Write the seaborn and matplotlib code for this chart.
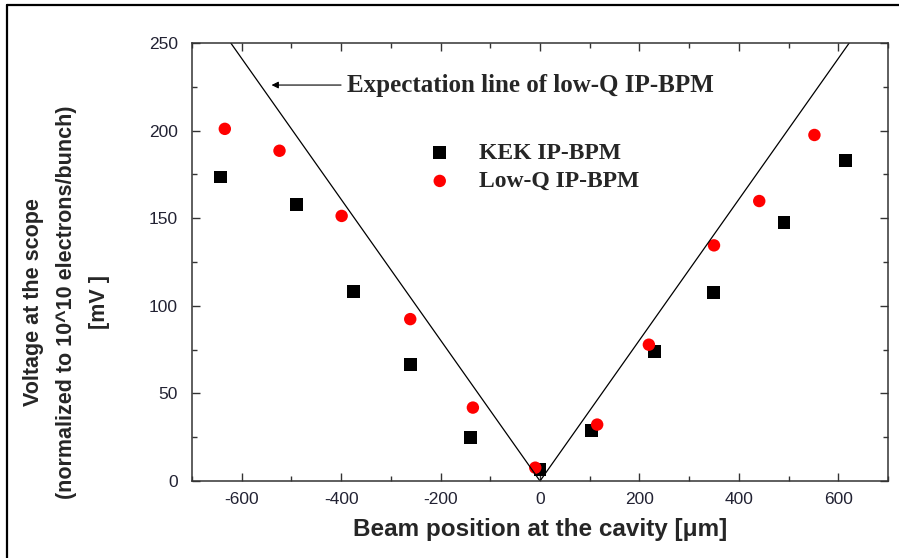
import pandas as pd
import matplotlib.pyplot as plt
import matplotlib.lines as mlines
import seaborn as sns
from matplotlib.ticker import MultipleLocator

# Dữ liệu
kek_x = [-643, -489, -375, -261, -139, 0, 103, 230, 349, 491, 615]
kek_y = [173.5, 157.6, 108, 66.3, 24.6, 6.6, 29, 73.9, 107.6, 147.7, 182.8]
lowq_x = [-634, -524, -399, -261, -135, -9.5, 115, 219, 350, 441, 552]
lowq_y = [201, 188.5, 151.3, 92.4, 41.9, 7.6, 32.2, 77.8, 134.5, 159.8, 197.5]
# đường kỳ vọng (hình chữ V)
expect_x = [-622, 0, 622]
expect_y = [250, 0, 250]

kek = pd.DataFrame({'pos': kek_x, 'volt': kek_y})
lowq = pd.DataFrame({'pos': lowq_x, 'volt': lowq_y})
expect = pd.DataFrame({'pos': expect_x, 'volt': expect_y})

sns.set_style('ticks')
plt.rcParams['font.family'] = ['Liberation Sans', 'DejaVu Sans']
plt.rcParams['axes.unicode_minus'] = False

fig = plt.figure(figsize=(8.99, 5.58), dpi=100)
ax = fig.add_axes([192 / 899, 1 - 481 / 558, 696 / 899, 438 / 558])

sns.lineplot(data=expect, x='pos', y='volt', color='black', lw=0.9, sort=False, ax=ax)
sns.scatterplot(data=kek, x='pos', y='volt', marker='s', color='black', s=85,
                edgecolor='none', label='KEK IP-BPM', ax=ax)
sns.scatterplot(data=lowq, x='pos', y='volt', marker='o', color='red', s=80,
                edgecolor='none', label='Low-Q IP-BPM', ax=ax)

ax.set_xlim(-700, 700)
ax.set_ylim(0, 250)
ax.xaxis.set_major_locator(MultipleLocator(200))
ax.xaxis.set_minor_locator(MultipleLocator(100))
ax.yaxis.set_major_locator(MultipleLocator(50))
ax.yaxis.set_minor_locator(MultipleLocator(25))
ax.tick_params(which='both', direction='in', top=True, right=True, width=1, color='#333333')
ax.tick_params(which='major', length=6, labelsize=12.5, labelcolor='#222233')
ax.tick_params(which='minor', length=3.5)
ax.tick_params(axis='y', pad=10)
ax.tick_params(axis='x', pad=8)
for sp in ax.spines.values():
    sp.set_linewidth(1.1)
    sp.set_color('#333333')

ax.set_xlabel('Beam position at the cavity [μm]', fontsize=17.5, fontweight='bold', va='top')
ax.xaxis.set_label_coords(0.5, -0.084)
ax.set_ylabel('Voltage at the scope\n(normalized to 10^10 electrons/bunch)\n[mV ]',
              fontsize=15.5, fontweight='bold', va='center', ha='center', linespacing=1.75)
ax.yaxis.set_label_coords(-0.181, 0.409)

serif = {'family': ['Liberation Serif', 'DejaVu Serif'], 'weight': 'bold', 'size': 17}
ax.annotate('Expectation line of low-Q IP-BPM', xy=(-540, 226), xytext=(-388, 226),
            va='center', ha='left', family=serif['family'], weight='bold', size=18,
            arrowprops=dict(arrowstyle='-|>', color='black', lw=0.8, mutation_scale=10,
                            shrinkA=2, shrinkB=0))

ax.legend(loc='upper left', bbox_to_anchor=(0.339, 0.774), frameon=False,
          prop=serif, handlelength=1, handletextpad=1.15, labelspacing=0.3,
          borderaxespad=0, borderpad=0)

# khung viền của hình gốc
fig.add_artist(mlines.Line2D([7 / 899, 1], [1 - 5 / 558, 1 - 5 / 558], color='black', lw=1.6,
                             transform=fig.transFigure))
fig.add_artist(mlines.Line2D([7 / 899, 7 / 899], [0, 1 - 5 / 558], color='black', lw=1.6,
                             transform=fig.transFigure))

plt.savefig('out.png', dpi=100)
